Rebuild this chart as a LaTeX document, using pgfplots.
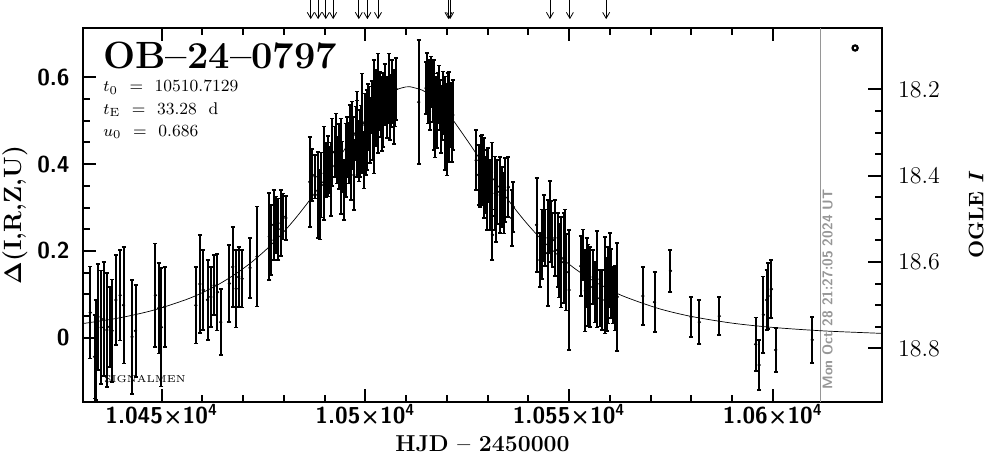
\documentclass[border=0pt]{standalone}
\usepackage{fontspec}
\usepackage{bm}
\usepackage{pgfplots}
\pgfplotsset{compat=1.18}
\usetikzlibrary{arrows.meta}

\definecolor{stampgray}{RGB}{150,150,150}

% photometry: HJD-2450000, Delta mag, error
\pgfplotstableread{
x y e
10432.48 0.058 0.106
10433.56 -0.044 0.096
10433.88 -0.028 0.115
10434.37 0.048 0.122
10435.17 0.024 0.131
10435.76 0.043 0.131
10436.57 0.018 0.131
10437.23 0.025 0.092
10437.86 0.016 0.118
10438.77 0.087 0.104
10439.82 0.098 0.104
10440.65 0.075 0.134
10442.75 0.002 0.131
10443.59 0.016 0.106
10448.48 0.098 0.119
10449.28 0.068 0.104
10449.94 0.024 0.136
10450.75 0.071 0.092
10458.40 0.075 0.088
10459.38 0.124 0.113
10460.21 0.110 0.092
10461.26 0.087 0.092
10462.07 0.094 0.069
10462.90 0.121 0.069
10463.71 0.105 0.088
10464.51 0.036 0.076
10466.64 0.125 0.089
10467.45 0.163 0.092
10468.28 0.113 0.089
10468.92 0.140 0.069
10469.75 0.136 0.066
10471.70 0.161 0.069
10473.41 0.187 0.115
10476.42 0.233 0.100
10476.84 0.225 0.081
10477.47 0.260 0.081
10478.06 0.260 0.065
10478.62 0.250 0.071
10479.28 0.264 0.076
10479.84 0.279 0.053
10480.50 0.276 0.051
10486.37 0.359 0.104
10487.01 0.375 0.060
10487.67 0.371 0.050
10488.33 0.329 0.099
10488.89 0.306 0.080
10489.20 0.352 0.075
10489.87 0.379 0.108
10490.43 0.386 0.062
10490.80 0.395 0.070
10491.09 0.386 0.054
10491.50 0.365 0.085
10491.90 0.427 0.078
10492.49 0.429 0.058
10492.80 0.452 0.065
10493.12 0.409 0.054
10493.60 0.418 0.075
10493.95 0.438 0.067
10494.00 0.365 0.080
10494.34 0.394 0.058
10494.76 0.340 0.069
10495.17 0.409 0.085
10495.57 0.440 0.069
10495.90 0.425 0.070
10496.23 0.465 0.071
10496.50 0.402 0.085
10496.79 0.477 0.067
10497.00 0.448 0.060
10497.20 0.375 0.081
10497.62 0.471 0.062
10497.90 0.492 0.075
10498.01 0.459 0.088
10498.40 0.430 0.070
10498.67 0.448 0.077
10499.00 0.470 0.065
10499.23 0.494 0.115
10499.65 0.409 0.065
10499.89 0.490 0.073
10500.20 0.455 0.080
10500.46 0.479 0.092
10500.70 0.520 0.065
10500.87 0.506 0.073
10501.20 0.478 0.075
10501.53 0.532 0.060
10501.90 0.500 0.090
10502.09 0.509 0.131
10502.40 0.545 0.070
10502.66 0.529 0.088
10503.00 0.505 0.080
10503.15 0.567 0.088
10503.50 0.548 0.065
10503.73 0.532 0.069
10504.10 0.505 0.075
10504.37 0.525 0.085
10504.70 0.560 0.070
10504.95 0.544 0.050
10505.20 0.530 0.070
10505.44 0.555 0.046
10505.80 0.575 0.080
10506.01 0.525 0.069
10506.30 0.545 0.060
10506.57 0.567 0.073
10507.00 0.532 0.085
10507.23 0.552 0.065
10507.55 0.573 0.071
10513.10 0.543 0.143
10514.90 0.575 0.060
10515.13 0.600 0.056
10515.30 0.559 0.065
10515.54 0.589 0.051
10515.90 0.548 0.070
10516.20 0.590 0.058
10516.52 0.566 0.069
10516.76 0.521 0.088
10516.90 0.580 0.060
10517.10 0.490 0.075
10517.33 0.536 0.065
10517.50 0.506 0.069
10517.82 0.552 0.058
10518.10 0.562 0.065
10518.40 0.536 0.058
10518.60 0.495 0.070
10518.79 0.518 0.062
10518.96 0.548 0.065
10519.20 0.530 0.060
10519.45 0.494 0.108
10519.80 0.505 0.080
10520.02 0.432 0.058
10520.20 0.550 0.060
10520.43 0.538 0.074
10520.60 0.480 0.075
10521.09 0.513 0.074
10521.30 0.470 0.065
10521.48 0.513 0.081
10527.20 0.409 0.069
10527.77 0.375 0.069
10528.18 0.359 0.058
10528.50 0.395 0.070
10528.74 0.386 0.081
10529.23 0.368 0.092
10529.50 0.352 0.065
10529.80 0.340 0.092
10530.21 0.375 0.062
10530.63 0.329 0.081
10531.00 0.365 0.085
10531.19 0.237 0.058
10531.85 0.333 0.085
10532.00 0.300 0.080
10532.41 0.336 0.074
10533.07 0.329 0.088
10533.63 0.324 0.069
10534.00 0.310 0.070
10534.29 0.340 0.074
10535.10 0.347 0.069
10535.91 0.276 0.065
10536.32 0.301 0.058
10542.02 0.260 0.108
10542.85 0.179 0.062
10543.30 0.215 0.080
10543.83 0.253 0.076
10544.07 0.230 0.065
10544.71 0.195 0.122
10545.30 0.278 0.083
10545.60 0.245 0.070
10545.93 0.225 0.062
10546.52 0.230 0.088
10547.16 0.202 0.085
10547.50 0.168 0.075
10547.74 0.197 0.065
10548.13 0.174 0.104
10548.72 0.184 0.104
10549.00 0.205 0.090
10549.36 0.151 0.088
10550.02 0.110 0.138
10552.88 0.165 0.069
10553.44 0.191 0.058
10554.00 0.108 0.094
10554.30 0.150 0.080
10554.66 0.121 0.094
10555.22 0.117 0.092
10555.88 0.140 0.062
10556.40 0.105 0.070
10556.86 0.135 0.111
10557.52 0.091 0.065
10558.08 0.087 0.069
10558.89 0.121 0.111
10559.20 0.100 0.085
10559.55 0.121 0.088
10560.11 0.156 0.085
10560.40 0.125 0.080
10560.77 0.098 0.065
10561.34 0.091 0.074
10561.83 0.094 0.124
10568.11 0.096 0.067
10570.97 0.082 0.069
10574.88 0.154 0.048
10579.92 0.048 0.046
10581.97 0.036 0.051
10586.86 0.050 0.044
10595.81 -0.015 0.062
10596.64 -0.063 0.058
10597.69 0.053 0.088
10598.50 0.087 0.069
10598.84 0.096 0.076
10599.65 0.112 0.067
10600.70 -0.028 0.051
10609.67 -0.005 0.053
}\photdata

% PSPL model, tabulated
\pgfplotstableread{
x y
10430.7 0.0329
10432 0.0345
10440 0.0464
10448 0.0635
10456 0.0879
10460 0.1039
10464 0.1231
10468 0.1461
10472 0.1735
10476 0.2061
10480 0.2443
10483 0.2769
10486 0.3128
10489 0.3517
10492 0.3929
10496 0.4491
10500 0.5024
10502 0.5259
10504 0.5460
10506 0.5619
10508 0.5727
10510 0.5779
10511 0.5782
10514 0.5702
10516 0.5579
10518 0.5407
10520 0.5194
10522 0.4951
10526 0.4411
10530 0.3849
10533 0.3441
10536 0.3057
10539 0.2704
10542 0.2385
10545 0.2099
10548 0.1845
10552 0.1553
10556 0.1308
10560 0.1103
10564 0.0933
10572 0.0672
10580 0.0491
10590 0.0337
10600 0.0238
10612 0.0160
10624 0.0111
10626.8 0.0102
}\modeldata

% observation markers along the top
\pgfplotstableread{
x y
10486.6 0.778
10488.4 0.778
10490.3 0.778
10492.1 0.778
10498.4 0.778
10500.5 0.778
10503.1 0.778
10520.4 0.778
10520.8 0.778
10545.3 0.778
10550.2 0.778
10559.1 0.778
}\arrowdata

\begin{document}
\begin{tikzpicture}
\useasboundingbox (-41.5pt,-28.5pt) rectangle (451.5pt,201pt);

\begin{axis}[
  at={(0,0)}, anchor=south west,
  scale only axis, width=399.5pt, height=187pt,
  xmin=10430.7, xmax=10626.8,
  ymin=-0.148, ymax=0.7136,
  clip=false,
  axis line style={line width=1pt},
  tick align=inside,
  xtick pos=both, xticklabel pos=lower,
  ytick pos=left, yticklabel pos=left,
  xtick={10450,10500,10550,10600},
  xticklabels={1.045×10\textsuperscript{4},1.05×10\textsuperscript{4},1.055×10\textsuperscript{4},1.06×10\textsuperscript{4}},
  minor x tick num=4,
  ytick={0,0.2,0.4,0.6},
  yticklabels={0,0.2,0.4,0.6},
  minor y tick num=3,
  major tick length=6.5pt, minor tick length=3.7pt,
  every tick/.style={black, line width=1pt},
  xticklabel style={font=\sffamily\bfseries\fontsize{11.5}{12}\selectfont, anchor=base, yshift=-11pt},
  yticklabel style={font=\sffamily\bfseries\fontsize{11.5}{12}\selectfont, anchor=east, inner sep=0pt, xshift=-6.5pt},
  xlabel={HJD -- 2450000},
  ylabel={$\bm{\Delta}$(I,R,Z,U)},
  every axis x label/.style={at={(axis description cs:0.5,-0.1337)}, anchor=base, font=\bfseries\fontsize{11.5}{13}\selectfont},
  every axis y label/.style={at={(axis description cs:-0.0851,0.5)}, rotate=90, anchor=center, font=\bfseries\fontsize{12.5}{14}\selectfont},
]
\addplot[stampgray, line width=0.6pt] coordinates {(10611.7,-0.148) (10611.7,0.7136)};
\node[rotate=90, anchor=base west, text=stampgray, font=\sffamily\bfseries\fontsize{7}{8}\selectfont, inner sep=0pt]
  at (axis cs:10614.6,-0.1205) {Mon Oct 28 21:27:05 2024 UT};

\addplot[black, line width=0.35pt, smooth] table[x=x, y=y] {\modeldata};

\addplot[black, only marks, mark=*, mark size=0.6pt,
  error bars/.cd, y dir=both, y explicit,
  error bar style={line width=1pt},
  error mark options={rotate=90, mark size=1pt, line width=0.8pt}]
  table[x=x, y=y, y error=e] {\photdata};

\addplot[black, line width=0.4pt, quiver={u=0, v=-0.044}, -{Straight Barb[length=3pt, width=3.5pt]}]
  table[x=x, y=y] {\arrowdata};

\addplot[black, only marks, mark=o, mark size=1.3pt, line width=1.1pt] coordinates {(10620.2,0.6675)};

\node[anchor=base west, inner sep=0pt, font=\bfseries\fontsize{19}{22}\selectfont] at (rel axis cs:0.025,0.893) {OB--24--0797};
\node[anchor=base west, inner sep=0pt, font=\fontsize{8.5}{10}\selectfont] at (rel axis cs:0.025,0.829) {$t_0$ \ = \ 10510.7129};
\node[anchor=base west, inner sep=0pt, font=\fontsize{8.5}{10}\selectfont] at (rel axis cs:0.025,0.770) {$t_{\mathrm{E}}$ \ = \ 33.28 \ d};
\node[anchor=base west, inner sep=0pt, font=\fontsize{8.5}{10}\selectfont] at (rel axis cs:0.025,0.711) {$u_0$ \ = \ 0.686};
\node[anchor=base west, inner sep=0pt, font=\fontsize{5}{6}\selectfont] at (rel axis cs:0.026,0.051) {SIGNALMEN};
\end{axis}

\begin{axis}[
  at={(0,0)}, anchor=south west,
  scale only axis, width=399.5pt, height=187pt,
  xmin=10430.7, xmax=10626.8,
  ymin=18.058, ymax=18.924,
  y dir=reverse,
  hide x axis,
  axis line style={line width=1pt},
  tick align=inside,
  ytick pos=right, yticklabel pos=right,
  ytick={18.2,18.4,18.6,18.8},
  yticklabels={18.2,18.4,18.6,18.8},
  minor y tick num=3,
  major tick length=7pt, minor tick length=3.7pt,
  every tick/.style={black, line width=1pt},
  yticklabel style={font=\fontsize{12}{14}\selectfont, anchor=west, inner sep=0pt, xshift=7.8pt},
  ylabel={OGLE \textit{I}},
  every axis y label/.style={at={(axis description cs:1.1177,0.5)}, rotate=90, anchor=center, font=\bfseries\fontsize{10.5}{12}\selectfont},
]
\end{axis}
\end{tikzpicture}
\end{document}
